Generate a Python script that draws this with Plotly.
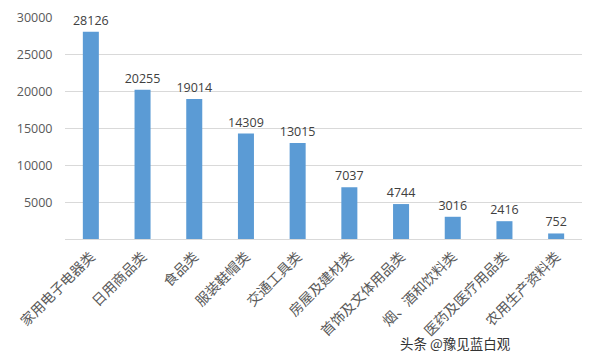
import plotly.graph_objects as go

categories = ["家用电子电器类", "日用商品类", "食品类", "服装鞋帽类", "交通工具类",
              "房屋及建材类", "首饰及文体用品类", "烟、酒和饮料类", "医药及医疗用品类", "农用生产资料类"]
values = [28126, 20255, 19014, 14309, 13015, 7037, 4744, 3016, 2416, 752]
y_ticks = [5000, 10000, 15000, 20000, 25000, 30000]

W, H = 592, 352
L, T, R, B = 57, 10, 18, 121
PW, PH = W - L - R, H - T - B

fig = go.Figure(go.Bar(
    x=categories, y=values,
    marker=dict(color="#5b9bd5", line=dict(width=0)),
    text=[str(v) for v in values], textposition="outside",
    constraintext="none",
    textfont=dict(family="Open Sans, Noto Sans CJK SC", size=12.5, color="#404040"),
    cliponaxis=False,
))

fig.update_layout(
    width=W, height=H,
    margin=dict(l=L, r=R, t=T, b=B, autoexpand=False),
    paper_bgcolor="white", plot_bgcolor="white",
    bargap=0.69,
    showlegend=False,
    font=dict(family="Open Sans, Noto Sans CJK SC", color="#595959"),
    xaxis=dict(
        tickangle=-45, automargin=False,
        tickfont=dict(family="Noto Sans CJK SC", size=14, color="#595959"),
        showline=True, linecolor="#d9d9d9", linewidth=1,
        ticks="outside", ticklen=3, tickcolor="rgba(0,0,0,0)", showgrid=False,
    ),
    yaxis=dict(
        range=[0, 30000], tickvals=y_ticks, ticktext=[str(t) for t in y_ticks],
        automargin=False,
        showgrid=True, gridcolor="#d9d9d9", gridwidth=1,
        zeroline=False, showline=False,
        ticks="outside", ticklen=9, tickcolor="rgba(0,0,0,0)",
        tickfont=dict(family="Open Sans", size=12.5, color="#595959"),
    ),
    annotations=[dict(text="头条 @豫见蓝白观", xref="paper", yref="paper",
                      x=(513 - 8 - L)/PW, y=-(343 - 239)/PH, xanchor="right", yanchor="middle",
                      showarrow=False,
                      font=dict(family="Noto Sans CJK SC", size=13.5, color="#333333"))],
)

fig.write_html("out.html")
